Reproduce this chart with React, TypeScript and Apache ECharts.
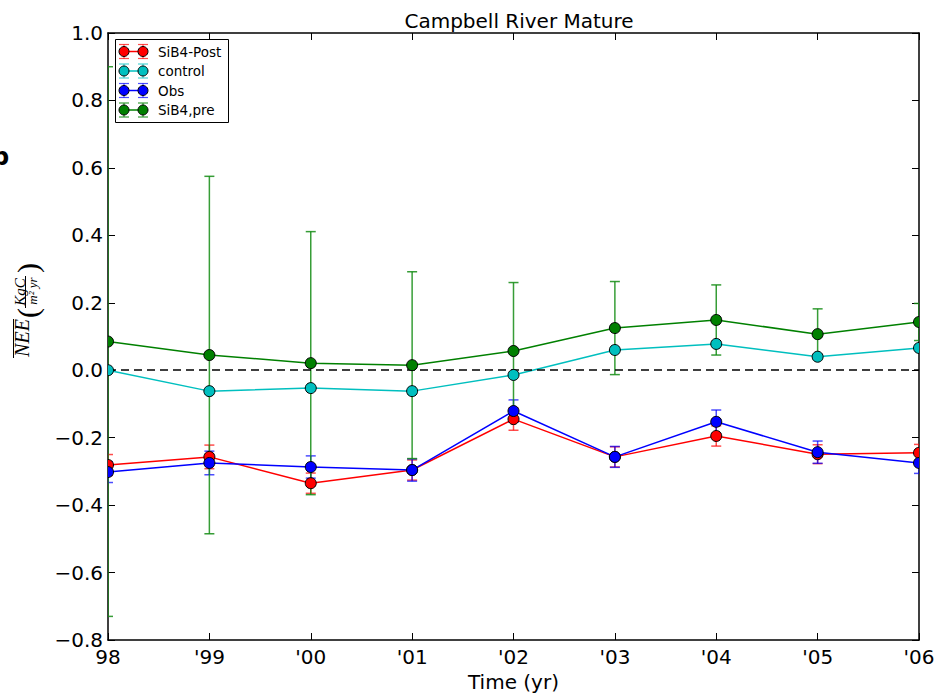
import React, { useEffect, useRef } from "react";
import * as echarts from "echarts";

const years = [1998, 1999, 2000, 2001, 2002, 2003, 2004, 2005, 2006];
const xTickLabels = ["98", "'99", "'00", "'01", "'02", "'03", "'04", "'05", "'06"];
const yTickLabels = ["\u22120.8", "\u22120.6", "\u22120.4", "\u22120.2", "0.0", "0.2", "0.4", "0.6", "0.8", "1.0"];

const seriesNames = ["SiB4-Post", "control", "Obs", "SiB4,pre"];
const seriesColors = ["#ff0000", "#00bfbf", "#0000ff", "#008000"];
const errColors = ["rgba(255,0,0,0.7)", "rgba(0,191,191,0.7)", "rgba(0,0,255,0.7)", "rgba(20,140,20,0.85)"];

const postVals = [-0.281, -0.257, -0.335, -0.296, -0.145, -0.257, -0.195, -0.249, -0.245];
const postErr = [0.031, 0.035, 0.03, 0.03, 0.033, 0.03, 0.03, 0.028, 0.025];
const controlVals = [0.0, -0.062, -0.053, -0.062, -0.014, 0.06, 0.078, 0.04, 0.066];
const controlErr = [0, 0, 0, 0, 0, 0, 0, 0, 0];
const obsVals = [-0.302, -0.275, -0.287, -0.296, -0.121, -0.257, -0.153, -0.243, -0.275];
const obsErr = [0.031, 0.035, 0.033, 0.033, 0.033, 0.031, 0.035, 0.033, 0.031];
const preVals = [0.085, 0.045, 0.021, 0.015, 0.057, 0.125, 0.149, 0.107, 0.143];
const preErr = [0.815, 0.53, 0.39, 0.277, 0.203, 0.138, 0.104, 0.075, 0.055];

const allVals = [postVals, controlVals, obsVals, preVals];
const allErr = [postErr, controlErr, obsErr, preErr];

const FONT = "DejaVu Sans";

export default function App() {
  const ref = useRef<HTMLDivElement>(null);
  useEffect(() => {
    if (!ref.current) return;
    const chart = echarts.init(ref.current, null, { renderer: "svg", width: 936, height: 693 });

    const errSeries: any[] = allVals.map((vals, si) => ({
      type: "custom",
      name: seriesNames[si] + " err",
      clip: true,
      z: 1,
      silent: true,
      data: years.map((y, i) => [y, vals[i], allErr[si][i]]),
      renderItem: (params: any, api: any) => {
        const x = api.value(0);
        const v = api.value(1);
        const e = api.value(2);
        if (!e) return { type: "group", children: [] };
        const top = api.coord([x, v + e]);
        const bot = api.coord([x, v - e]);
        const st = { stroke: errColors[si], lineWidth: 1.5 };
        return {
          type: "group",
          children: [
            { type: "line", shape: { x1: top[0], y1: top[1], x2: bot[0], y2: bot[1] }, style: st },
            { type: "line", shape: { x1: top[0] - 5, y1: top[1], x2: top[0] + 5, y2: top[1] }, style: st },
            { type: "line", shape: { x1: bot[0] - 5, y1: bot[1], x2: bot[0] + 5, y2: bot[1] }, style: st },
          ],
        };
      },
    }));

    const lineSeries: any[] = allVals.map((vals, si) => ({
      type: "line",
      name: seriesNames[si],
      z: 2,
      silent: true,
      showSymbol: false,
      data: years.map((y, i) => [y, vals[i]]),
      lineStyle: { color: seriesColors[si], width: 1.5 },
      itemStyle: { color: seriesColors[si] },
      ...(si === 0
        ? {
            markLine: {
              silent: true,
              symbol: "none",
              label: { show: false },
              lineStyle: { color: "#000", type: [8, 5], width: 1.5 },
              data: [{ yAxis: 0 }],
              z: 3,
            },
          }
        : {}),
    }));

    const markerSeries: any[] = allVals.map((vals, si) => ({
      type: "custom",
      name: seriesNames[si] + " pts",
      clip: true,
      z: 4,
      silent: true,
      data: years.map((y, i) => [y, vals[i]]),
      renderItem: (params: any, api: any) => {
        const p = api.coord([api.value(0), api.value(1)]);
        return {
          type: "circle",
          shape: { cx: p[0], cy: p[1], r: 5.5 },
          style: { fill: seriesColors[si], stroke: "#000", lineWidth: 1 },
        };
      },
    }));

    const legendEls: any[] = [
      {
        type: "rect",
        shape: { x: 115.5, y: 39.5, width: 113, height: 83 },
        style: { fill: "#fff", stroke: "#000", lineWidth: 1 },
        z: 100,
      },
    ];
    seriesNames.forEach((nm, si) => {
      const cy = 51.5 + si * 19.5;
      const x1 = 124;
      const x2 = 143;
      legendEls.push({
        type: "line",
        shape: { x1, y1: cy, x2, y2: cy },
        style: { stroke: seriesColors[si], lineWidth: 1.5 },
        z: 101,
      });
      [x1, x2].forEach((cx) => {
        legendEls.push({
          type: "line",
          shape: { x1: cx - 5, y1: cy - 7, x2: cx + 5, y2: cy - 7 },
          style: { stroke: errColors[si], lineWidth: 1.2 },
          z: 101,
        });
        legendEls.push({
          type: "line",
          shape: { x1: cx - 5, y1: cy + 7, x2: cx + 5, y2: cy + 7 },
          style: { stroke: errColors[si], lineWidth: 1.2 },
          z: 101,
        });
        legendEls.push({
          type: "line",
          shape: { x1: cx, y1: cy - 7, x2: cx, y2: cy + 7 },
          style: { stroke: errColors[si], lineWidth: 1.2 },
          z: 101,
        });
        legendEls.push({
          type: "circle",
          shape: { cx, cy, r: 5 },
          style: { fill: seriesColors[si], stroke: "#000", lineWidth: 1 },
          z: 102,
        });
      });
      legendEls.push({
        type: "text",
        x: 158,
        y: cy,
        style: { text: nm, font: `13.5px '${FONT}'`, fill: "#000", textVerticalAlign: "middle" },
        z: 102,
      });
    });

    const serif = "'Liberation Serif', 'DejaVu Serif', serif";
    const ylabelEls: any[] = [
      {
        type: "text",
        x: 22,
        y: 338,
        rotation: Math.PI / 2,
        style: { text: "NEE", font: `italic 20px ${serif}`, fill: "#000", textAlign: "center", textVerticalAlign: "middle" },
      },
      { type: "line", shape: { x1: 13.5, y1: 319, x2: 13.5, y2: 358 }, style: { stroke: "#000", lineWidth: 1 } },
      {
        type: "text",
        x: 27,
        y: 313,
        rotation: Math.PI / 2,
        style: { text: "(", font: `30px ${serif}`, fill: "#000", textAlign: "center", textVerticalAlign: "middle" },
      },
      {
        type: "text",
        x: 27,
        y: 268,
        rotation: Math.PI / 2,
        style: { text: ")", font: `30px ${serif}`, fill: "#000", textAlign: "center", textVerticalAlign: "middle" },
      },
      {
        type: "text",
        x: 19.5,
        y: 292,
        rotation: Math.PI / 2,
        style: { text: "KgC", font: `italic 15px ${serif}`, fill: "#000", textAlign: "center", textVerticalAlign: "middle" },
      },
      { type: "line", shape: { x1: 25.5, y1: 276, x2: 25.5, y2: 308 }, style: { stroke: "#000", lineWidth: 1 } },
      {
        type: "text",
        x: 32,
        y: 291,
        rotation: Math.PI / 2,
        style: { text: "m\u00b2 yr", font: `italic 13px ${serif}`, fill: "#000", textAlign: "center", textVerticalAlign: "middle" },
      },
      {
        type: "text",
        x: -8,
        y: 169,
        style: { text: "b", font: `bold 24px '${FONT}'`, fill: "#000", textVerticalAlign: "bottom" },
      },
    ];

    const axisTickStyle = { inside: true, length: 7, lineStyle: { color: "#000", width: 1 } };
    const axisLineStyle = { show: true, onZero: false, lineStyle: { color: "#000", width: 1.5 } };

    chart.setOption({
      animation: false,
      backgroundColor: "#fff",
      title: {
        text: "Campbell River Mature",
        left: 514,
        top: 6,
        textAlign: "center",
        textStyle: { fontFamily: FONT, fontSize: 20, fontWeight: "normal", color: "#000" },
      },
      grid: { left: 108, right: 17, top: 33, bottom: 53, containLabel: false, outerBoundsMode: "none" },
      xAxis: [
        {
          type: "value",
          min: 1998,
          max: 2006,
          interval: 1,
          position: "bottom",
          axisLine: axisLineStyle,
          axisTick: axisTickStyle,
          splitLine: { show: false },
          axisLabel: {
            color: "#000",
            fontFamily: FONT,
            fontSize: 20,
            margin: 7,
            formatter: (v: number) => xTickLabels[Math.round(v - 1998)] ?? "",
          },
          name: "Time (yr)",
          nameLocation: "middle",
          nameGap: 26,
          nameTextStyle: { color: "#000", fontFamily: FONT, fontSize: 20 },
        },
        {
          type: "value",
          min: 1998,
          max: 2006,
          interval: 1,
          position: "top",
          axisLine: axisLineStyle,
          axisTick: axisTickStyle,
          splitLine: { show: false },
          axisLabel: { show: false },
        },
      ],
      yAxis: [
        {
          type: "value",
          min: -0.8,
          max: 1.0,
          interval: 0.2,
          position: "left",
          axisLine: axisLineStyle,
          axisTick: axisTickStyle,
          splitLine: { show: false },
          axisLabel: {
            color: "#000",
            fontFamily: FONT,
            fontSize: 20,
            margin: 5,
            formatter: (v: number) => yTickLabels[Math.round((v + 0.8) / 0.2)] ?? "",
          },
        },
        {
          type: "value",
          min: -0.8,
          max: 1.0,
          interval: 0.2,
          position: "right",
          axisLine: axisLineStyle,
          axisTick: axisTickStyle,
          splitLine: { show: false },
          axisLabel: { show: false },
        },
      ],
      graphic: [...ylabelEls, ...legendEls],
      series: [...errSeries, ...lineSeries, ...markerSeries],
    });
    return () => chart.dispose();
  }, []);
  return <div ref={ref} style={{ position: "fixed", left: 0, top: 0, width: 936, height: 693 }} />;
}
